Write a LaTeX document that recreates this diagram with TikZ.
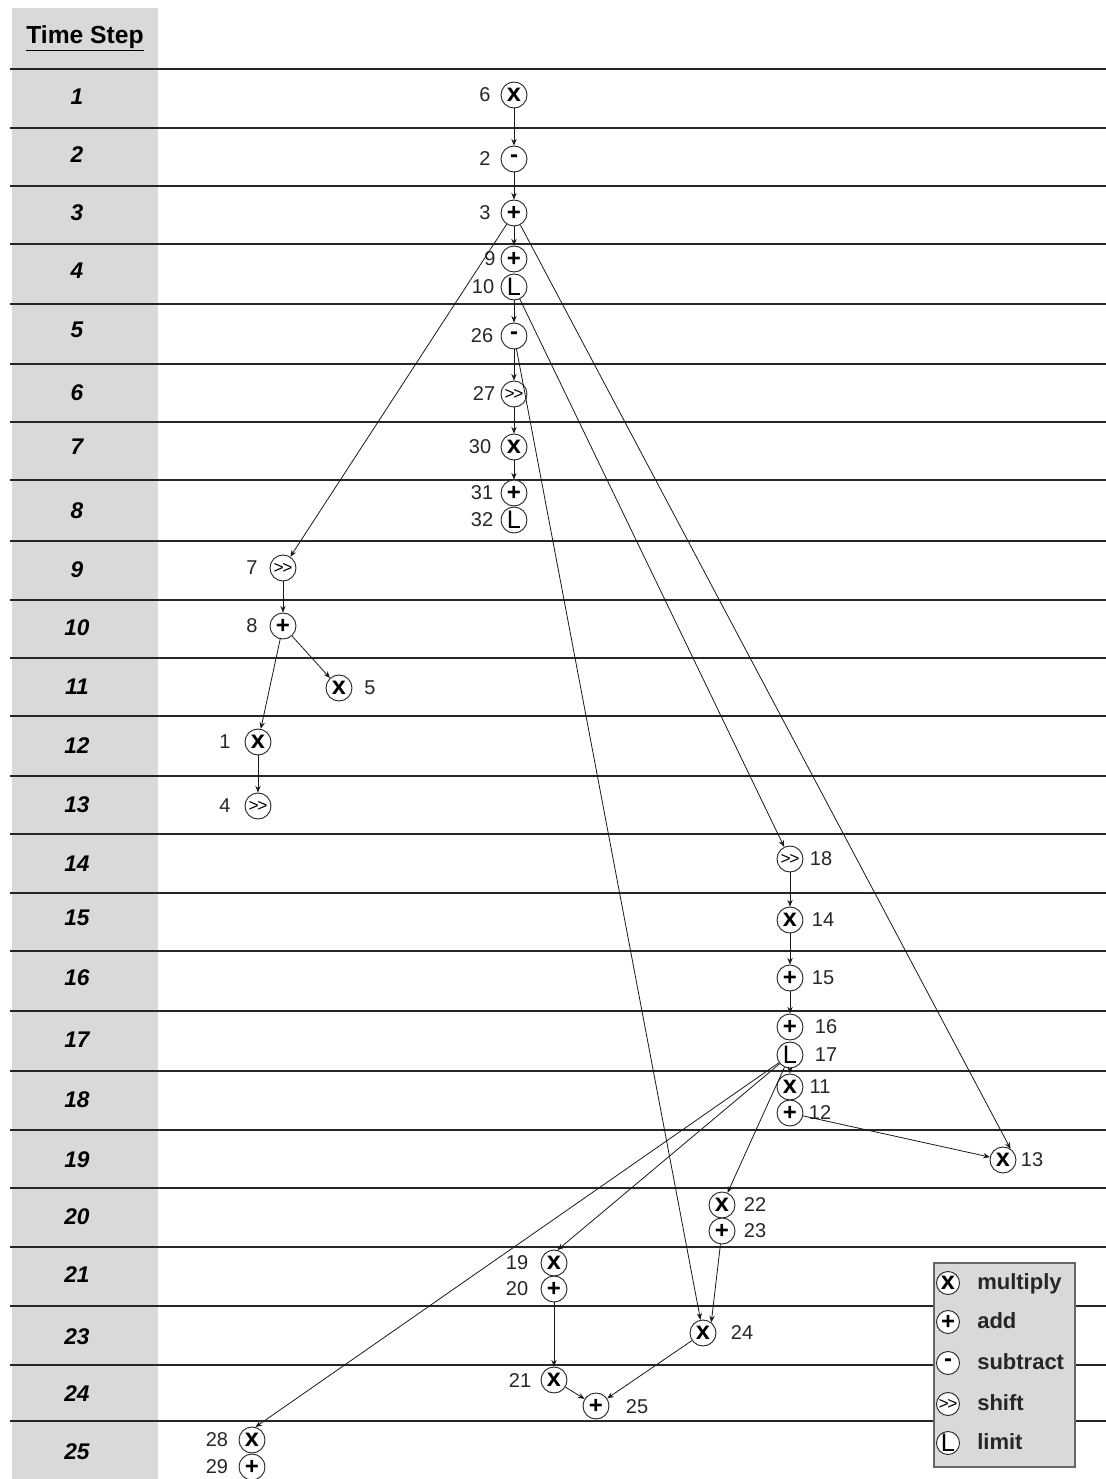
\documentclass[tikz,border=0pt]{standalone}
\usepackage{fontspec}
\setmainfont{Liberation Sans}
\usetikzlibrary{arrows.meta}
\definecolor{colbg}{HTML}{D9D9D9}
\newcommand\opmul{{\fontsize{19}{19}\selectfont\bfseries x}}
\newcommand\opadd{{\fontsize{18}{18}\selectfont\bfseries +}}
\newcommand\opsub{{\fontsize{18}{18}\selectfont\bfseries -}}
\newcommand\opshf{{\fontsize{13}{13}\selectfont >\kern-1pt>}}
\newcommand\oplim{{\fontsize{19}{19}\selectfont L}}
\begin{document}
\begin{tikzpicture}[x=0.75pt,y=-0.75pt,
  op/.style={circle,draw=black!85,line width=0.7pt,minimum size=19.5pt,inner sep=0pt,fill=white},
  lop/.style={op,minimum size=17.25pt},
  lb/.style={font=\fontsize{15}{18}\selectfont,inner sep=0pt,text=black!85},
  arr/.style={line width=0.6pt,draw=black!90,-{Stealth[length=5pt,width=4pt]}},
  hl/.style={line width=1.3pt,draw=black!85},
  ts/.style={font=\fontsize{17}{20}\selectfont\bfseries\itshape,inner sep=0pt},
  legtxt/.style={font=\fontsize{16.5}{20}\selectfont\bfseries,inner sep=0pt,anchor=base west,text=black!85}]
\useasboundingbox (0,0) rectangle (1106,1479);
% gray time-step column
\fill[colbg] (12,8) rectangle (158,1479);
\node[font=\fontsize{18.5}{22}\selectfont\bfseries,inner sep=0pt,anchor=base] (title) at (85,43) {\underline{Time Step}};
% row lines
\foreach \yy in {69,128,186,244,304,364,422,480,541,600,658,716,776,834,893,951,1011,1071,1130,1188,1247,1306,1365,1421}
  \draw[hl] (10,\yy) -- (1106,\yy);
% time step numbers
\foreach \t/\yy in {1/97,2/155,3/213,4/271,5/330,6/393,7/447,8/511,9/570,10/628,11/687,12/746,13/805,14/864,15/918,16/978,17/1040,18/1100,19/1160,20/1217,21/1275,23/1337,24/1394,25/1452}
  \node[ts] (ts\t) at (77,\yy) {\t};

% operation nodes
\node[op] (n6)  at (514,95)  {\opmul};
\node[op] (n2)  at (514,159) {\opsub};
\node[op] (n3)  at (514,213) {\opadd};
\node[op] (n9)  at (514,259) {\opadd};
\node[op] (n10) at (514,287) {\oplim};
\node[op] (n26) at (514,336) {\opsub};
\node[op] (n27) at (514,394) {\opshf};
\node[op] (n30) at (514,447) {\opmul};
\node[op] (n31) at (514,493) {\opadd};
\node[op] (n32) at (514,520) {\oplim};

\node[op] (n7) at (283,568) {\opshf};
\node[op] (n8) at (283,626) {\opadd};
\node[op] (n5) at (339,688) {\opmul};
\node[op] (n1) at (258,742) {\opmul};
\node[op] (n4) at (258,806) {\opshf};

\node[op] (n18) at (790,859)  {\opshf};
\node[op] (n14) at (790,920)  {\opmul};
\node[op] (n15) at (790,978)  {\opadd};
\node[op] (n16) at (790,1027) {\opadd};
\node[op] (n17) at (790,1055) {\oplim};
\node[op] (n11) at (790,1087) {\opmul};
\node[op] (n12) at (790,1113) {\opadd};
\node[op] (n13) at (1003,1160) {\opmul};

\node[op] (n22) at (722,1205) {\opmul};
\node[op] (n23) at (722,1231) {\opadd};
\node[op] (n19) at (554,1263) {\opmul};
\node[op] (n20) at (554,1289) {\opadd};
\node[op] (n24) at (703,1333) {\opmul};
\node[op] (n21) at (554,1380) {\opmul};
\node[op] (n25) at (596,1406) {\opadd};
\node[op] (n28) at (252,1440) {\opmul};
\node[op] (n29) at (252,1467) {\opadd};

% number labels
\foreach \nm/\xx/\yy in {6/485/95,2/485/159,3/485/213,9/490/259,10/483/287,26/482/336,27/484/394,30/480/447,31/482/493,32/482/520,
  7/252/568,8/252/626,5/370/688,1/225/742,4/225/806,
  18/821/859,14/823/920,15/823/978,16/826/1027,17/826/1055,11/820/1087,12/820/1113,13/1032/1160,
  22/755/1205,23/755/1231,19/517/1263,20/517/1289,24/742/1333,21/520/1380,25/637/1407,28/217/1440,29/217/1467}
  \node[lb] (l\nm) at (\xx,\yy) {\nm};

% connectors
\draw[arr] (n6) -- (n2);
\draw[arr] (n2) -- (n3);
\draw[arr] (n3) -- (n9);
\draw[arr] (n10) -- (n26);
\draw[arr] (n26) -- (n27);
\draw[arr] (n27) -- (n30);
\draw[arr] (n30) -- (n31);
\draw[arr] (n3) -- (n7);
\draw[arr] (n3) -- (n13.56);
\draw[arr] (n10) -- (n18);
\draw[arr] (n26) -- (n24);
\draw[arr] (n7) -- (n8);
\draw[arr] (n8) -- (n5);
\draw[arr] (n8) -- (n1);
\draw[arr] (n1) -- (n4);
\draw[arr] (n18) -- (n14);
\draw[arr] (n14) -- (n15);
\draw[arr] (n15) -- (n16);
\draw[arr] (n17) -- (n11);
\draw[arr] (n17) -- (n28.75);
\draw[arr] (n17) -- (n19.75);
\draw[arr] (n17) -- (n22);
\draw[arr] (n12) -- (n13);
\draw[arr] (n23) -- (n24.52);
\draw[arr] (n20) -- (n21);
\draw[arr] (n21) -- (n25);
\draw[arr] (n24) -- (n25);

% legend
\draw[fill=colbg,draw=black!60,line width=0.8pt] (934,1263) rectangle (1075,1467);
\node[lop] (gm) at (948,1283) {\opmul};
\node[lop] (ga) at (948,1322) {\opadd};
\node[lop] (gs) at (948,1363) {\opsub};
\node[lop] (gh) at (948,1404) {\opshf};
\node[lop] (gl) at (948,1443) {\oplim};
\node[legtxt] (tm) at (977,1289) {multiply};
\node[legtxt] (ta) at (977,1328) {add};
\node[legtxt] (tsu) at (977,1369) {subtract};
\node[legtxt] (tsh) at (977,1410) {shift};
\node[legtxt] (tl) at (977,1449) {limit};
\end{tikzpicture}
\end{document}
